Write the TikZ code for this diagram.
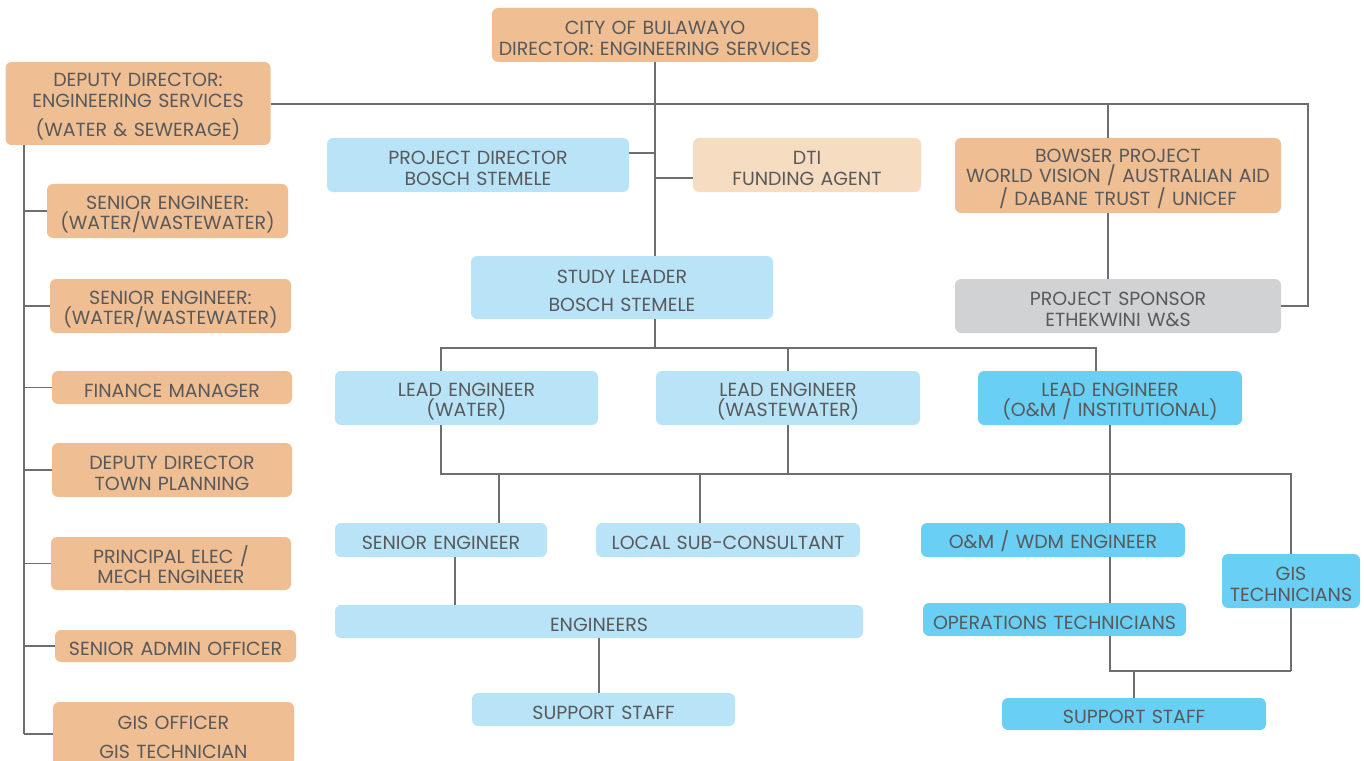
\documentclass[tikz,border=0pt]{standalone}
\usepackage{fontspec}
\setmainfont{Poppins}
\usepackage{tikz}

\definecolor{peach}{HTML}{EFBE93}
\definecolor{palepeach}{HTML}{F6DCC0}
\definecolor{paleblue}{HTML}{B9E4F8}
\definecolor{deepblue}{HTML}{6ACFF4}
\definecolor{boxgrey}{HTML}{D1D2D4}
\definecolor{inkgrey}{HTML}{58595B}
\definecolor{wiregrey}{HTML}{6D6E71}

\tikzset{wh/.style 2 args = {minimum width=#1*0.02cm, minimum height=#2*0.02cm,
                             text width=#1*0.02cm-4pt}}

\begin{document}
\begin{tikzpicture}[x=0.02cm, y=-0.02cm,
    box/.style = {rounded corners=3.5pt, inner sep=0pt, align=center, text=inkgrey,
                  font=\fontsize{10.8}{11.6}\selectfont,
                  execute at begin node={\rule{0pt}{11.4pt}}},
    peachbox/.style = {box, fill=peach},
    palebox/.style = {box, fill=palepeach},
    lightbox/.style = {box, fill=paleblue},
    deepbox/.style = {box, fill=deepblue},
    greybox/.style = {box, fill=boxgrey},
    link/.style = {draw=wiregrey, line width=0.8pt}]
  \useasboundingbox (0,0) rectangle (1364,760);
  \begin{scope}
  \clip (0,0) rectangle (1364,760);
  % top of the chart
  \node [peachbox, wh={326}{54}] (city) at (655,35) {CITY OF BULAWAYO\\DIRECTOR: ENGINEERING SERVICES};
  \node [peachbox, wh={265}{83}] (dep) at (138,103.5) {DEPUTY DIRECTOR:\\ENGINEERING SERVICES\\[5pt](WATER \& SEWERAGE)};
  \node [lightbox, wh={302}{54}] (pdir) at (478,165) {PROJECT DIRECTOR\\BOSCH STEMELE};
  \node [palebox, wh={228}{54}] (dti) at (807,165) {DTI\\FUNDING AGENT};
  \node [peachbox, wh={326}{75}] (bowser) at (1118,175.5) {BOWSER PROJECT\\WORLD VISION / AUSTRALIAN AID\\/ DABANE TRUST / UNICEF};
  \node [lightbox, wh={302}{63}] (study) at (622,287.5) {STUDY LEADER\\[4pt]BOSCH STEMELE};
  \node [greybox, wh={326}{54}] (sponsor) at (1118,306) {PROJECT SPONSOR\\ETHEKWINI W\&S};
  % left column
  \node [peachbox, wh={241}{54}] (se1) at (167.5,211) {SENIOR ENGINEER:\\(WATER/WASTEWATER)};
  \node [peachbox, wh={241}{54}] (se2) at (170.5,306) {SENIOR ENGINEER:\\(WATER/WASTEWATER)};
  \node [peachbox, wh={240}{33}] (fin) at (172,387.5) {FINANCE MANAGER};
  \node [peachbox, wh={240}{54}] (dtp) at (172,470) {DEPUTY DIRECTOR\\TOWN PLANNING};
  \node [peachbox, wh={240}{53}] (pee) at (171,563.5) {PRINCIPAL ELEC /\\MECH ENGINEER};
  \node [peachbox, wh={241}{32}] (sao) at (175.5,646) {SENIOR ADMIN OFFICER};
  \node [peachbox, wh={241}{64}] (gis) at (173.5,734) {GIS OFFICER\\[5pt]GIS TECHNICIAN};
  % lead engineers
  \node [lightbox, wh={263}{54}] (lw) at (466.5,398) {LEAD ENGINEER\\(WATER)};
  \node [lightbox, wh={264}{54}] (lww) at (788,398) {LEAD ENGINEER\\(WASTEWATER)};
  \node [deepbox, wh={264}{54}] (lo) at (1110,398) {LEAD ENGINEER\\(O\&M / INSTITUTIONAL)};
  % lower rows
  \node [lightbox, wh={212}{34}] (seng) at (441,540) {SENIOR ENGINEER};
  \node [lightbox, wh={264}{34}] (lsc) at (728,540) {LOCAL SUB-CONSULTANT};
  \node [lightbox, wh={528}{33}] (eng) at (599,621.5) {ENGINEERS};
  \node [lightbox, wh={263}{33}] (ss1) at (603.5,709.5) {SUPPORT STAFF};
  \node [deepbox, wh={264}{34}] (omw) at (1053,540) {O\&M / WDM ENGINEER};
  \node [deepbox, wh={263}{33}] (ops) at (1054.5,619.5) {OPERATIONS TECHNICIANS};
  \node [deepbox, wh={138}{54}] (gist) at (1291,581) {GIS\\TECHNICIANS};
  \node [deepbox, wh={264}{32}] (ss2) at (1134,714) {SUPPORT STAFF};
  % junctions
  \coordinate (jpd) at (655,153);
  \coordinate (jdti) at (655,178);
  \coordinate (jright) at (1308,200);
  \coordinate (jbw) at (1108,104);
  \coordinate (lx) at (24,145);
  \coordinate (jl) at (655,348);
  \coordinate (b1) at (441,348);
  \coordinate (b2) at (1096,348);
  \coordinate (c1) at (441,474);
  \coordinate (c2) at (1291,474);
  \coordinate (c3) at (499,474);
  \coordinate (c4) at (700,474);
  \coordinate (d1) at (1291,671);
  % lines
  \draw [link] (city.south) -- (city.south |- study.north);
  \draw [link] (pdir.east |- jpd) -- (jpd);
  \draw [link] (jdti) -- (jdti -| dti.west);
  \draw [link] (dep.east |- jbw) -| (jright) |- (sponsor.east);
  \draw [link] (jbw) -- (jbw |- bowser.north);
  \draw [link] (jbw |- bowser.south) -- (jbw |- sponsor.north);
  \draw [link] (lx) -- (lx |- gis.west);
  \foreach \n in {se1,se2,fin,dtp,pee,sao,gis}
    \draw [link] (lx |- \n.west) -- (\n.west);
  \draw [link] (jl |- study.south) -- (jl);
  \draw [link] (b1 |- lw.north) -- (b1) -- (b2) -- (b2 |- lo.north);
  \draw [link] (lww.north) -- (lww.north |- b1);
  \draw [link] (c1 |- lw.south) -- (c1) -- (c2) -- (gist.north);
  \draw [link] (lww.south) -- (lww.south |- c1);
  \draw [link] (c3) -- (c3 |- seng.north);
  \draw [link] (c4) -- (c4 |- lsc.north);
  \draw [link] (lo.south) -- (lo.south |- omw.north);
  \draw [link] (lo.south |- omw.south) -- (lo.south |- ops.north);
  \draw [link] (lo.south |- ops.south) |- (d1);
  \draw [link] (gist.south) -- (d1);
  \draw [link] (ss2.north |- d1) -- (ss2.north);
  \draw [link] ([xshift=0.28cm]seng.south) -- ([xshift=0.28cm]seng.south |- eng.north);
  \draw [link] (eng.south) -- (eng.south |- ss1.north);
  \end{scope}
\end{tikzpicture}
\end{document}
